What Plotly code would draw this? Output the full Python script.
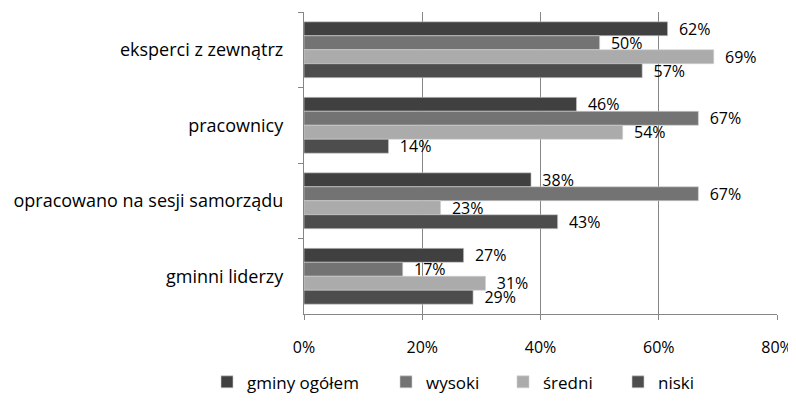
import plotly.graph_objects as go

categories = ["eksperci z zewnątrz", "pracownicy", "opracowano na sesji samorządu", "gminni liderzy"]
series_names = ["gminy ogółem", "wysoki", "średni", "niski"]
gminy_ogolem = [61.5, 46.1, 38.4, 27.0]
wysoki = [50.0, 66.7, 66.7, 16.7]
sredni = [69.3, 53.9, 23.1, 30.7]
niski = [57.2, 14.3, 42.9, 28.6]
x_ticks = [0, 20, 40, 60, 80]
x_tick_labels = ["0%", "20%", "40%", "60%", "80%"]

colors = ["#404040", "#737373", "#ababab", "#4d4d4d"]
FONT = "Open Sans"
FS = 16

OFF = 8  # default page body margin
W, H = 796 - OFF, 404 - OFF
PL, PR, PT, PB = 304 - OFF, 19, 12 - OFF, 87
PW = W - PL - PR
PH = H - PT - PB
legend_square_px = [224, 403, 520, 635]
legend_names = ["legend", "legend2", "legend3", "legend4"]

fig = go.Figure()
for name, vals, col, lg in zip(series_names, [gminy_ogolem, wysoki, sredni, niski], colors, legend_names):
    fig.add_trace(go.Bar(
        y=categories, x=vals, name=name, orientation="h", legend=lg,
        marker=dict(color=col, line=dict(color="#d0d0d0", width=0.6)),
        text=["\u00a0\u00a0" + f"{round(v):d}%" for v in vals],
        textposition="outside", cliponaxis=False, constraintext="none", textangle=0,
        textfont=dict(family=FONT, size=FS, color="#000000"),
    ))

legend_y = (PH + PT - (386 - OFF)) / PH  # paper coords
legends = {}
for lg, sq in zip(legend_names, legend_square_px):
    legends[lg] = dict(x=(sq - OFF - 14 - 3 - PL) / PW, xanchor="left", y=legend_y, yanchor="middle",
                       font=dict(family=FONT, size=17), itemwidth=30,
                       bgcolor="rgba(0,0,0,0)", borderwidth=0)

fig.update_layout(
    barmode="group", bargap=0.26, bargroupgap=0,
    width=W, height=H,
    margin=dict(l=PL, r=PR, t=PT, b=PB),
    paper_bgcolor="white", plot_bgcolor="white",
    font=dict(family=FONT, size=FS, color="#000000"),
    showlegend=True,
    **legends,
)
fig.update_xaxes(range=[0, 80], tickvals=x_ticks, ticktext=x_tick_labels, automargin=False,
                 showgrid=True, gridcolor="#868686", gridwidth=1.3,
                 showline=True, linecolor="#868686", linewidth=1.3,
                 ticks="outside", ticklen=5, tickcolor="#868686", ticklabelstandoff=14,
                 tickfont=dict(family=FONT, size=FS), zeroline=False)
fig.update_yaxes(autorange="reversed", automargin=False, showline=True, linecolor="#868686", linewidth=1.3,
                 ticks="outside", ticklen=5, tickcolor="#868686", tickson="boundaries",
                 tickfont=dict(family=FONT, size=18), ticklabelstandoff=16, showgrid=False)

fig.write_html("out.html")
